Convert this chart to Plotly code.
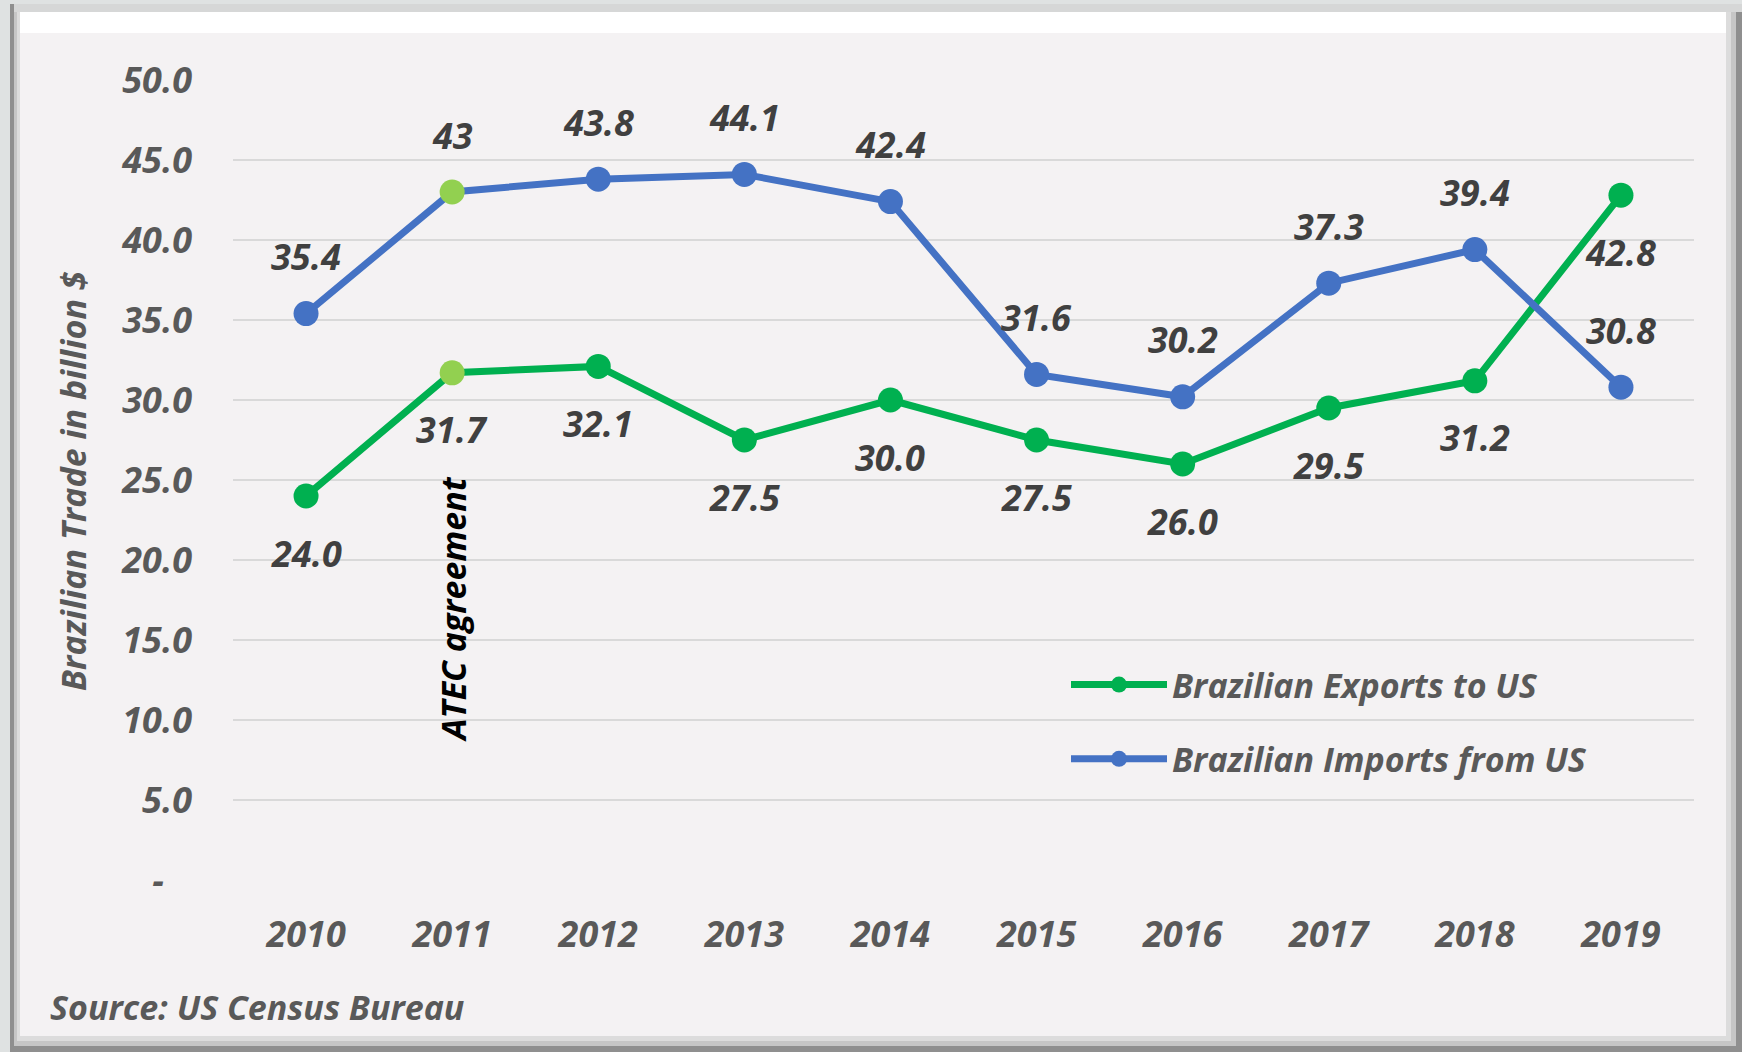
import plotly.graph_objects as go

# ---------------- data ----------------
years = ["2010", "2011", "2012", "2013", "2014", "2015", "2016", "2017", "2018", "2019"]
exports = [24.0, 31.7, 32.1, 27.5, 30.0, 27.5, 26.0, 29.5, 31.2, 42.8]
imports = [35.4, 43.0, 43.8, 44.1, 42.4, 31.6, 30.2, 37.3, 39.4, 30.8]
export_labels = ["24.0", "31.7", "32.1", "27.5", "30.0", "27.5", "26.0", "29.5", "31.2", "42.8"]
import_labels = ["35.4", "43", "43.8", "44.1", "42.4", "31.6", "30.2", "37.3", "39.4", "30.8"]
y_tickvals = [0, 5, 10, 15, 20, 25, 30, 35, 40, 45, 50]
y_ticktext = ["-\u00a0\u00a0\u00a0", "5.0", "10.0", "15.0", "20.0", "25.0", "30.0", "35.0", "40.0", "45.0", "50.0"]
highlight_year = "2011"

# ---------------- style ----------------
W, H = 1742, 1052
L, R, T, B = 233, 48, 80, 172
PW, PH = W - L - R, H - T - B
GREEN = "#00b050"
BLUE = "#4472c4"
LIGHT = "#92d050"
GREY_TXT = "#595959"
DARK_TXT = "#404040"
FONT = "Open Sans"


def px(x):
    return (x - L) / PW


def py(y):
    return (H - B - y) / PH


def marker_colors(base):
    return [LIGHT if yr == highlight_year else base for yr in years]


fig = go.Figure()
fig.add_trace(go.Scatter(
    x=years, y=exports, mode="lines+markers", name="Brazilian Exports to US",
    line=dict(color=GREEN, width=7),
    marker=dict(size=25, color=marker_colors(GREEN)),
    legendgroup="e",
))
fig.add_trace(go.Scatter(
    x=years, y=imports, mode="lines+markers", name="Brazilian Imports from US",
    line=dict(color=BLUE, width=7),
    marker=dict(size=25, color=marker_colors(BLUE)),
    legendgroup="i",
))

annotations = []
lab_font = dict(family=FONT, size=36, color=DARK_TXT, weight="bold", style="italic")
for i, (v, t) in enumerate(zip(imports, import_labels)):
    annotations.append(dict(x=i, y=v, xref="x", yref="y", text=t, showarrow=False, yshift=57,
                            xanchor="center", yanchor="middle", font=lab_font))
for i, (v, t) in enumerate(zip(exports, export_labels)):
    annotations.append(dict(x=i, y=v, xref="x", yref="y", text=t, showarrow=False, yshift=-57,
                            xanchor="center", yanchor="middle", font=lab_font))

annotations.append(dict(x=years.index(highlight_year), y=16.9, xref="x", yref="y",
                        text="ATEC agreement", textangle=-90,
                        showarrow=False, xanchor="center", yanchor="middle",
                        font=dict(family=FONT, size=34, color="#000000", weight="bold", style="italic")))
annotations.append(dict(xref="paper", yref="paper", x=px(73), y=py(481),
                        text="Brazilian Trade in billion $", textangle=-90, showarrow=False,
                        xanchor="center", yanchor="middle",
                        font=dict(family=FONT, size=34, color=GREY_TXT, weight="bold", style="italic")))
annotations.append(dict(xref="paper", yref="paper", x=px(48), y=py(1007),
                        text="Source: US Census Bureau", showarrow=False,
                        xanchor="left", yanchor="middle",
                        font=dict(family=FONT, size=34, color=GREY_TXT, weight="bold", style="italic")))


def rect(x0, y0, x1, y1, color):
    return dict(type="rect", xref="paper", yref="paper", layer="below",
                x0=px(x0), x1=px(x1), y0=py(y1), y1=py(y0),
                fillcolor=color, line=dict(width=0))


shapes = [
    rect(0, 0, W, H, "#dfe2e2"),
    rect(10, 4, W, H, "#8f8f8f"),
    rect(14, 4, 1736, 1046, "#c6c6c6"),
    rect(17, 4, 1731, 1041, "#dcdcdc"),
    rect(20, 8, 1726, 1036, "#f4f2f3"),
    rect(14, 4, W, 12, "#d6d7d7"),
    rect(20, 12, 1726, 33, "#ffffff"),
]

tick_font = dict(family=FONT, size=36, color=GREY_TXT, weight="bold", style="italic")

fig.update_layout(
    width=W, height=H,
    margin=dict(l=L, r=R, t=T, b=B),
    paper_bgcolor="#dfe2e2",
    plot_bgcolor="rgba(0,0,0,0)",
    showlegend=True,
    legend=dict(x=px(1066), y=py(656), xanchor="left", yanchor="top",
                bgcolor="rgba(0,0,0,0)", traceorder="grouped", tracegroupgap=27,
                itemwidth=96,
                font=dict(family=FONT, size=34, color=GREY_TXT, weight="bold", style="italic")),
    xaxis=dict(type="category", range=[-0.5, 9.5], showgrid=False, zeroline=False,
               showline=False, ticks="", tickfont=tick_font, ticklabelstandoff=30),
    yaxis=dict(range=[0, 50], tickvals=y_tickvals, ticktext=y_ticktext, showgrid=True,
               gridcolor="#d9d9d9", gridwidth=2, zeroline=False, showline=False, ticks="",
               tickfont=tick_font, ticklabelstandoff=40),
    annotations=annotations,
    shapes=shapes,
)

fig.write_html("out.html", config={"displayModeBar": False},
               post_script="document.body.style.margin='0';")
